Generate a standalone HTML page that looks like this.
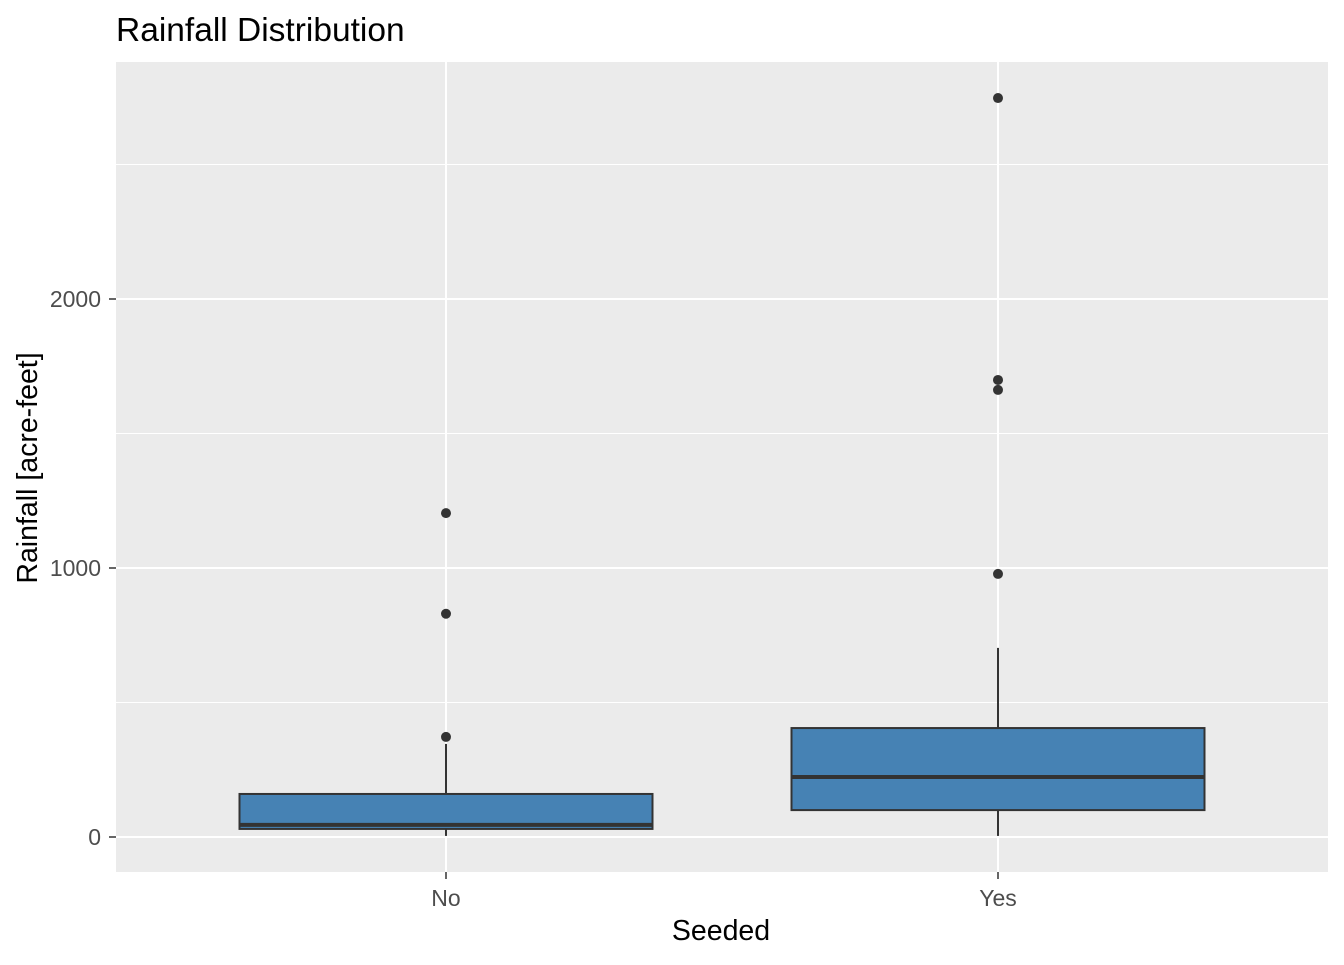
<!DOCTYPE html>
<html><head><meta charset="utf-8"><style>
body{margin:0;background:#fff;font-family:"Liberation Sans",Arial,sans-serif}
</style></head><body>
<svg id="c" width="1344" height="960">
<text x="116" y="41" font-size="33.5" fill="#000">Rainfall Distribution</text>
<rect x="116" y="62" width="1212" height="810" fill="#EBEBEB"/>
<g id="grid"></g><g id="marks"></g><g id="axes"></g>
<text x="721" y="940" font-size="28.5" text-anchor="middle" fill="#000">Seeded</text>
<text transform="translate(37,468) rotate(-90)" font-size="28.5" text-anchor="middle" fill="#000">Rainfall [acre-feet]</text>
</svg>
<script>
const categories=["No","Yes"];
const lowWhisker=[4,4];
const q1=[30,100];
const median=[45,223];
const q3=[160,405];
const highWhisker=[346,703];
const outliers=[[372,830,1204],[978,1662,1699,2747]];
const yTicks=[0,1000,2000];
const yMinor=[500,1500,2500];
const NS="http://www.w3.org/2000/svg";
const y=v=>837-v*0.269;
const x=i=>446+i*552;
const halfW=206.5;
function mk(p,t,a){const e=document.createElementNS(NS,t);for(const k in a)e.setAttribute(k,a[k]);document.getElementById(p).appendChild(e);return e;}
yMinor.forEach(v=>{const e=mk('grid','line',{x1:116,x2:1328,y1:y(v),y2:y(v),stroke:'#fff','stroke-width':1});

});
yTicks.forEach(v=>{const e=mk('grid','line',{x1:116,x2:1328,y1:y(v),y2:y(v),stroke:'#fff','stroke-width':2});


const t=mk('axes','text',{x:101,y:y(v)+8,'font-size':23,'text-anchor':'end',fill:'#4D4D4D'});t.textContent=v;


const k=mk('axes','line',{x1:109,x2:116,y1:y(v),y2:y(v),stroke:'#333','stroke-width':1.5});

});
categories.forEach((c,i)=>{const cx=x(i);
const g=mk('grid','line',{x1:cx,x2:cx,y1:62,y2:872,stroke:'#fff','stroke-width':2});


const t=mk('axes','text',{x:cx,y:906,'font-size':23,'text-anchor':'middle',fill:'#4D4D4D'});t.textContent=c;


const k=mk('axes','line',{x1:cx,x2:cx,y1:872,y2:879,stroke:'#333','stroke-width':1.5});


const w1=mk('marks','line',{x1:cx,x2:cx,y1:y(q3[i]),y2:y(highWhisker[i]),stroke:'#333','stroke-width':2});


const w2=mk('marks','line',{x1:cx,x2:cx,y1:y(q1[i]),y2:y(lowWhisker[i]),stroke:'#333','stroke-width':2});


const b=mk('marks','rect',{x:cx-halfW,y:y(q3[i]),width:2*halfW,height:y(q1[i])-y(q3[i]),fill:'#4682B4',stroke:'#333','stroke-width':2});


const m=mk('marks','line',{x1:cx-halfW,x2:cx+halfW,y1:y(median[i]),y2:y(median[i]),stroke:'#333','stroke-width':4});


outliers[i].forEach(v=>{const o=mk('marks','circle',{cx:cx,cy:y(v),r:5,fill:'#333'});

});
});
</script>
</body></html>
